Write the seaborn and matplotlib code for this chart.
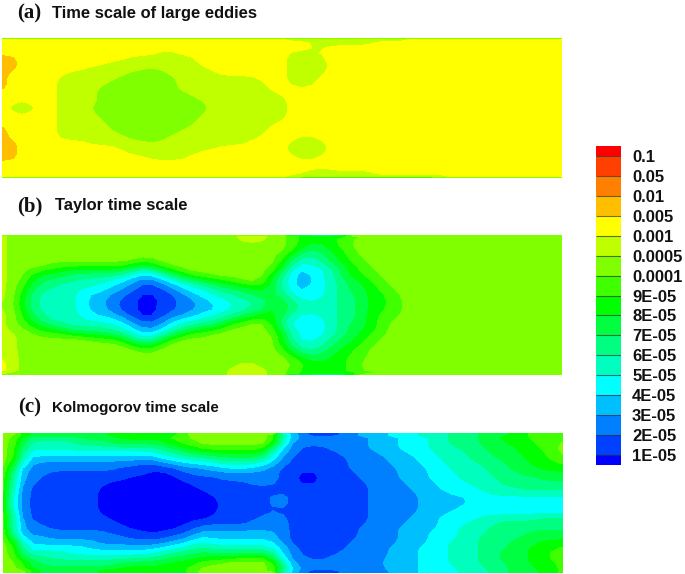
import matplotlib
matplotlib.use("Agg")
import matplotlib.pyplot as plt
from matplotlib.colors import ListedColormap
import numpy as np
import seaborn as sns

# colour band of each mesh node, one hex-like digit per node (0 = below 1E-05, g = above 0.1)
# groups of ten nodes, a row that stops early keeps its last digit up to the right wall
x_nodes = list(range(0, 570, 10))
y_nodes = [0, 2] + list(range(5, 140, 5)) + [138, 140]

large_eddy_rows = [
    "9999999999",
    "cccccccccc cccccccccc cccccccccb bbbbbbbbbb bccccccccc",
    "cccccccccc cccccccccc cccccccccc cbbbbbbbcc",
    "cccccccccc cccccccccc cccccccccc ccbccccccc",
    "cccccccccc ccccccbbcc cccccccccb bbcccccccc",
    "ddcccccccc cccbbbbbbb cccccccccb bbbccccccc",
    "ddcccccccc cbbbbbbbbb cccccccccb bbbccccccc",
    "ddcccccccb bbbbbabbbb bccccccccb bbbccccccc",
    "dccccccbbb bbbaaaabbb bbcccccccb bbbccccccc",
    "dcccccbbbb bbaaaaaabb bbbbbbcccb bbcccccccc",
    "dcccccbbbb baaaaaaabb bbbbbbbccb bbcccccccc",
    "dcccccbbbb aaaaaaaabb bbbbbbbccc bccccccccc",
    "ccccccbbbb aaaaaaaaab bbbbbbbbcc",
    "ccccccbbbb aaaaaaaaaa bbbbbbbbbc",
    "ccbcccbbbb aaaaaaaaaa abbbbbbbbc",
    "cbabccbbba aaaaaaaaaa abbbbbbbbc",
    "ccbcccbbbb aaaaaaaaaa abbbbbbbbc",
    "ccccccbbbb aaaaaaaaaa bbbbbbbbbc",
    "ccccccbbbb baaaaaaaaa bbbbbbbbcc",
    "dcccccbbbb baaaaaaaab bbbbbbbccc",
    "dcccccbbbb bbaaaaaabb bbbbbbbccc",
    "dcccccbbbb bbbaaaabbb bbbbbbcccc bbcccccccc",
    "ddcccccccb bbbbbabbbb bbbbbccccb bbbccccccc",
    "ddcccccccc ccbbbbbbbb bbcccccccb bbbccccccc",
    "ddcccccccc cccbbbbbbb cccccccccb bbbccccccc",
    "ddcccccccc cccccbbbbc cccccccccc bbcccccccc",
    "cccccccccc",
    "cccccccccc cccccccccc cccccccccc ccbccccccc",
    "cccccccccc cccccccccc cccccccccc bbbbbbbbcc",
    "cccccccccc cccccccccc cccccccccb bbbbbbbbbb bbbbbccccc",
    "8888888888",
]

taylor_rows = [
    "aaaaaaaaaa aaaaaaaaaa aaaaaaaaa5 55555aaaaa",
    "baaaaaaaaa aaaaaaaaaa aaaabbbaa9 888889aaaa",
    "baaaaaaaaa aaaaaaaaaa aaaabbbaa9 888899aaaa",
    "baaaaaaaaa aaaaaaaaaa aaaaaaaaa9 87789aaaaa",
    "baaaaaaaaa aaaaaaaaaa aaaaaaaaa9 767889aaaa",
    "baaaaaaaaa aaaaaaaaaa aaaaaaaa97 656789aaaa",
    "baaaaaaaaa aaaa99aaaa aaaaaaaa96 5567899aaa",
    "baaaa99999 9998789aaa aaaaaaaa85 4456789aaa",
    "baa9988777 777655789a aaaaaaa974 34457899aa",
    "baa8777666 6654335689 9aaaaaa864 24457889aa",
    "baa7766655 5443223456 7889aaa754 244567899a",
    "ba97665555 4432112345 5677889754 244567789a",
    "ba96655544 4322111234 4566778764 3445677899 aaaaaaaaaa",
    "ba86555543 3221001123 4455667764 4445667889 aaaaaaaaaa",
    "ba86555543 3211001122 3445566776 4455667889 9aaaaaaaaa",
    "aa86555543 3211001122 3344556786 5555667889 aaaaaaaaaa",
    "ba86555543 3211001122 3345566876 5555667889 9aaaaaaaaa",
    "ba96655544 3321001223 4455677975 4455667899 aaaaaaaaaa",
    "ba97655554 4432112344 5567899864 4445667899 aaaaaaaaaa",
    "ba98766555 5543222455 66799aa964 444567789a",
    "baa9887666 6554224567 889aaaa974 444567789a",
    "bbaa999887 7765445689 9aaaaaaa85 444567899a",
    "bbaaaaaaaa 99865579aa aaaaaaaa85 44567789aa",
    "bbaaaaaaaa aaa8779aaa aaaaaaaa86 55567899aa",
    "bbaaaaaaaa aaaa99aaaa aaaaaaaa97 5567889aaa",
    "bbaaaaaaaa aaaaaaaaaa aaaaaaaaa8 7677899aaa",
    "cbaaaaaaaa aaaaaaaaaa aaaaaaaaa9 8778899aaa",
    "cbaaaaaaaa aaaaaaaaaa aaaabbaaaa 988889aaaa",
    "cbaaaaaaaa aaaaaaaaaa aaabbbbaa9 8888899aaa",
    "baaaaaaaaa aaaaaaaaaa aaabbbbaa9 88888899aa",
    "aaaaaaaaaa aaaaaaaaaa aaabbbbaa5 555558aaaa",
]

kolmogorov_rows = [
    "aa87777777 788888889a aaaaaaaa43 2000223334 4455566677 7889999",
    "aa87777777 788888889a aaaaaaaa43 2111223334 4455566677 7889999",
    "aa76666677 778888899a aaaaaaaa43 2222222333 4445566677 8889999",
    "aa65555566 6777777899 aaaaaaaa42 2222222333 4445566677 788899a",
    "aa55555555 5555556778 9999999532 1112222333 4445556667 778899a",
    "aa44444444 4444445567 7788888432 1111222233 3444555667 778889a",
    "aa43333333 3333334455 5666666421 1111122223 3344555666 7778899",
    "a933222222 2222112334 4455554321 1111122223 3344455566 6778889",
    "a722222222 2211111122 2334433211 1111122222 3334455556 6777888",
    "a622211111 1111100112 2222222211 0011112222 3334445556 6677777",
    "a522111111 1110000011 1122222211 0011112222 3334445555 6666777",
    "a522111111 1000000001 1111122211 0011111222 2333444555 6666666",
    "a421111111 0000000000 1111111111 1111111222 2333444455 5566666",
    "a421111111 0000000000 0111111121 1111111222 2233344445 5555555",
    "a321111111 0000000000 0011111221 1111111222 2233333444 4444444",
    "a321111111 0000000000 0011111221 1111111222 2233333444 4444444",
    "a321111111 0000000000 0011111121 1111111222 2233334444 4444444",
    "a421111111 0000000000 0011111211 1111111222 2233344444 4444444",
    "a521111111 1000000000 0111112221 1111111222 2333444455 5555666",
    "a522111111 1100000001 1111122221 1111111222 2333444555 6666666",
    "a522211111 1110000011 2222222221 1111112222 3333445556 6666666",
    "a522222222 2111101112 3333333321 1111112222 3334445556 6667777",
    "a733322222 2221111223 4333333321 1111112222 3334445566 6677777",
    "a943333333 2222222334 5444444421 1111122222 3334455566 6777888",
    "aa44444443 3333334455 6555555532 1111122223 3344455566 6778889",
    "aa55555444 4444445566 7666666532 1111222223 3344455566 7778899",
    "aa66655555 5555566777 8888999832 2112222223 3344455566 7778899",
    "aa97666666 6677777888 99aaaaa952 2222222233 3344455566 6778889",
    "aa97777777 7788888889 aaaaaaaa63 2222222223 3344445556 6777889",
    "aaa8777777 8888888889 aaaaaaaa53 2111222223 3344445556 6777889",
    "aaa8777777 8888888889 aaaaaaaa53 2000222223 3344445556 6777889",
]

band_colors = ["#0000FF", "#0040FF", "#0080FF", "#00BFFF", "#00FFFF", "#00FFBF",
               "#00FF80", "#00FF40", "#00FF00", "#40FF00", "#80FF00", "#BFFF00",
               "#FFFF00", "#FFBF00", "#FF8000", "#FF4000", "#FF0000"]
scale_labels = ["1E-05", "2E-05", "3E-05", "4E-05", "5E-05", "6E-05", "7E-05", "8E-05",
                "9E-05", "0.0001", "0.0005", "0.001", "0.005", "0.01", "0.05", "0.1"]
panel_letters = ["(a)", "(b)", "(c)"]
panel_titles = ["Time scale of large eddies", "Taylor time scale", "Kolmogorov time scale"]
title_sizes = [11.9, 11.9, 10.9]


def rows_to_grid(rows):
    grid = []
    for row in rows:
        digits = row.replace(" ", "")
        digits = digits.ljust(len(x_nodes), digits[-1])[:len(x_nodes)]
        grid.append([int(d, 17) for d in digits])
    return np.array(grid, dtype=float)


def soften(grid):
    # rounds the steps of the band map, wall rows stay as read
    kernel = np.array([1, 2, 1]) / 4
    padded = np.pad(grid, ((0, 0), (1, 1)), mode="edge")
    out = np.apply_along_axis(lambda r: np.convolve(r, kernel, mode="valid"), 1, padded)
    inner = out[2:-2]
    padded = np.pad(inner, ((1, 1), (0, 0)), mode="edge")
    out[2:-2] = np.apply_along_axis(lambda c: np.convolve(c, kernel, mode="valid"), 0, padded)
    out[[0, -1]] = grid[[0, -1]]
    return out


W, H = 685, 574


def px_axes(fig, left, top, width, height):
    return fig.add_axes([left / W, 1 - (top + height) / H, width / W, height / H])


sns.set_theme(style="white")
palette = sns.color_palette(band_colors)
levels = np.arange(len(band_colors) + 1) - 0.5

fig = plt.figure(figsize=(W / 100, H / 100), dpi=100)

panels = [(large_eddy_rows, 2, 38), (taylor_rows, 2, 235), (kolmogorov_rows, 3, 433)]
for rows, left, top in panels:
    ax = px_axes(fig, left, top, 560, 140)
    ax.contourf(x_nodes, y_nodes, soften(rows_to_grid(rows)), levels=levels, colors=palette)
    ax.set_xlim(0, 560)
    ax.set_ylim(140, 0)
    ax.axis("off")

# letters and titles
letter_pos = [(17, 18), (17, 211), (18, 412)]
title_pos = [(52, 18), (55, 210), (52, 412)]
for letter, (x, y) in zip(panel_letters, letter_pos):
    fig.text(x / W, 1 - y / H, letter, family="Liberation Serif", weight="bold", fontsize=15, color="#111111")
for title, size, (x, y) in zip(panel_titles, title_sizes, title_pos):
    fig.text(x / W, 1 - y / H, title, family="Liberation Sans", weight="bold", fontsize=size, color="#111111")

# colour scale, end bands are half height
cell_bands = np.repeat(np.arange(len(band_colors)), [1] + [2] * (len(band_colors) - 2) + [1])
cax = px_axes(fig, 596, 146, 25, 319)
sns.heatmap(cell_bands[::-1].reshape(-1, 1), ax=cax, cmap=ListedColormap(band_colors),
            vmin=-0.5, vmax=len(band_colors) - 0.5, cbar=False, xticklabels=False)
tick_pos = np.arange(1, len(scale_labels) * 2, 2)
cax.hlines(tick_pos, 0, 1, color="#333333", lw=0.8, alpha=0.7)
cax.yaxis.tick_right()
cax.set_yticks(tick_pos)
cax.set_yticklabels(scale_labels[::-1], rotation=0, family="Liberation Sans", weight="bold",
                    fontsize=12, color="#111111", ha="left")
cax.tick_params(axis="y", length=0, pad=8)

fig.savefig("out.png", dpi=100)
